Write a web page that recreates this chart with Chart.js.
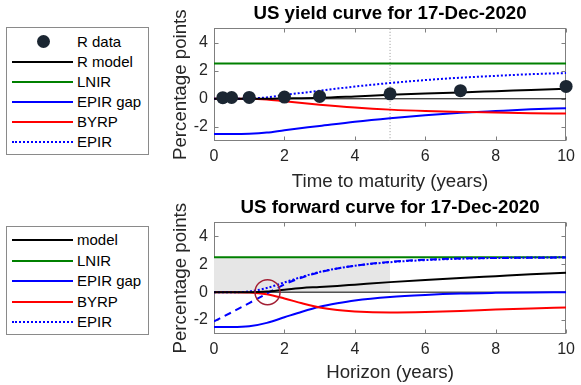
<!DOCTYPE html>
<html>
<head>
<meta charset="utf-8">
<script src="https://cdn.jsdelivr.net/npm/chart.js@4.4.1/dist/chart.umd.min.js"></script>
<style>
  html, body { margin: 0; padding: 0; background: #fff; }
  body { position: relative; width: 581px; height: 385px; overflow: hidden; font-family: "Liberation Sans", Arial, sans-serif; }
  canvas { position: absolute; left: 160px; }
  .legend { position: absolute; left: 6px; width: 143px; border: 1px solid #8a8a8a; background: #fff; box-sizing: border-box; }
  .row { position: absolute; left: 0; width: 140px; height: 20px; font-size: 15px; line-height: 20px; color: #000; }
  .row .sample { position: absolute; left: 5px; top: 9px; width: 61px; height: 0; }
  .row .dot { position: absolute; left: 30px; top: 3px; width: 13px; height: 13px; border-radius: 50%; background: #1b2632; }
  .row .txt { position: absolute; left: 70px; top: 0; white-space: nowrap; }
</style>
</head>
<body>
<div class="legend" id="leg1" style="top:27px;height:128px"></div>
<div class="legend" id="leg2" style="top:226px;height:109px"></div>
<canvas id="c1" width="421" height="194" style="top:0px"></canvas>
<canvas id="c2" width="421" height="191" style="top:194px"></canvas>
<script>
// axis ticks (both panels)
const xTicks = [0, 2, 4, 6, 8, 10];
const yTicks = [-2, 0, 2, 4];

// ---- yield curve panel ----
const matX = [0.25, 0.5, 1, 2, 3, 5, 7, 10];
const rData = [0.08, 0.09, 0.1, 0.12, 0.17, 0.35, 0.58, 0.88];
const tx = [0, 0.5, 1, 1.5, 2, 3, 4, 5, 6, 7, 8, 9, 10];
const tModel = [0, 0, 0, 0, 0.02, 0.07, 0.17, 0.28, 0.37, 0.45, 0.54, 0.63, 0.72];
const tLnir = [2.5, 2.5, 2.5, 2.5, 2.5, 2.5, 2.5, 2.5, 2.5, 2.5, 2.5, 2.5, 2.5];
const tGap = [-2.5, -2.5, -2.48, -2.4, -2.23, -1.93, -1.63, -1.38, -1.17, -1.0, -0.87, -0.75, -0.67];
const tByrp = [0, 0, 0, -0.05, -0.18, -0.42, -0.62, -0.77, -0.87, -0.93, -0.98, -1.02, -1.05];
const tEpir = [0, 0, 0.02, 0.1, 0.27, 0.57, 0.87, 1.12, 1.33, 1.5, 1.63, 1.75, 1.83];

// ---- forward curve panel ----
const bx = [0, 0.5, 1, 1.5, 2, 2.5, 3, 3.5, 4, 5, 6, 7, 8, 9, 10];
const bModel = [0, 0, 0, 0.04, 0.18, 0.3, 0.37, 0.45, 0.54, 0.72, 0.88, 1.02, 1.15, 1.28, 1.4];
const bLnir = [2.5, 2.5, 2.5, 2.5, 2.5, 2.5, 2.5, 2.5, 2.5, 2.5, 2.5, 2.5, 2.5, 2.5, 2.5];
const bGap = [-2.5, -2.5, -2.45, -2.2, -1.8, -1.4, -1.05, -0.8, -0.6, -0.35, -0.2, -0.1, -0.05, -0.02, 0];
const bByrp = [0, 0, -0.02, -0.15, -0.45, -0.8, -1.1, -1.28, -1.38, -1.45, -1.42, -1.35, -1.25, -1.17, -1.1];
const bEpir = [0, 0, 0.05, 0.3, 0.7, 1.1, 1.45, 1.7, 1.9, 2.15, 2.3, 2.4, 2.45, 2.48, 2.5];
const bDashed = [-2.1, -1.45, -0.78, -0.1, 0.55, 1.05, 1.42, 1.7, 1.9, 2.17, 2.33, 2.42, 2.45, 2.47, 2.48];
const shadeX = [0, 5];
const shadeY = [2.5, 2.5];
const circleX = [1.52];
const circleY = [0];

const FONT = '"Liberation Sans", Arial, sans-serif';
Chart.defaults.font.family = FONT;
Chart.defaults.color = '#262626';

function pts(xs, ys) { return xs.map((x, i) => ({ x: x, y: ys[i] })); }
function line(label, xs, ys, color, extra) {
  return Object.assign({
    label: label, data: pts(xs, ys), borderColor: color, backgroundColor: color,
    borderWidth: 2, pointRadius: 0, fill: false, cubicInterpolationMode: 'monotone'
  }, extra || {});
}

// MATLAB style box with inward ticks
const boxPlugin = {
  id: 'matBox',
  beforeDatasetsDraw(chart) {
    const { ctx, chartArea: a, scales: { x, y } } = chart;
    const L = Math.round(a.left) + 0.5, R = Math.round(a.right) - 0.5;
    const T = Math.round(a.top) + 0.5, B = Math.round(a.bottom) - 0.5;
    ctx.save();
    ctx.strokeStyle = '#7f7f7f';
    ctx.lineWidth = 1;
    ctx.strokeRect(L, T, R - L, B - T);
    ctx.beginPath();
    xTicks.forEach(v => {
      const p = Math.round(x.getPixelForValue(v)) + 0.5;
      ctx.moveTo(p, B); ctx.lineTo(p, B - 4);
      ctx.moveTo(p, T); ctx.lineTo(p, T + 4);
    });
    yTicks.forEach(v => {
      const p = Math.round(y.getPixelForValue(v)) + 0.5;
      ctx.moveTo(L, p); ctx.lineTo(L + 4, p);
      ctx.moveTo(R, p); ctx.lineTo(R - 4, p);
    });
    ctx.stroke();
    ctx.restore();
  }
};

function makeChart(id, title, xTitle, xh, datasets) {
  return new Chart(document.getElementById(id), {
    type: 'line',
    data: { datasets: datasets },
    options: {
      responsive: false,
      animation: false,
      layout: { padding: { left: 0, right: 12, top: 0, bottom: 0 } },
      plugins: {
        legend: { display: false },
        tooltip: { enabled: false },
        title: {
          display: true, text: title, fullSize: false, color: '#000',
          font: { size: 18.7, weight: 'bold' }, padding: { top: 3, bottom: 3 }
        }
      },
      scales: {
        x: {
          type: 'linear', min: 0, max: 10,
          afterBuildTicks(s) { s.ticks = xTicks.map(v => ({ value: v })); },
          afterFit(s) { s.height = xh; },
          grid: { display: false, drawTicks: false },
          border: { display: false },
          ticks: { padding: 6, maxRotation: 0, autoSkip: false, font: { size: 16 }, color: '#262626' },
          title: { display: true, text: xTitle, font: { size: 18.7 }, color: '#262626', padding: { top: 0, bottom: 1 } }
        },
        y: {
          type: 'linear', min: -3, max: 5,
          afterBuildTicks(s) { s.ticks = yTicks.map(v => ({ value: v })); },
          afterFit(s) { s.width = 54; },
          grid: { display: false, drawTicks: false },
          border: { display: false },
          ticks: { padding: 6, font: { size: 16 }, color: '#262626' },
          title: { display: true, text: 'Percentage points', font: { size: 18.7 }, color: '#262626', padding: { top: 10, bottom: 0 } }
        }
      }
    },
    plugins: [boxPlugin]
  });
}

// first dataset is drawn on top
makeChart('c1', 'US yield curve for 17-Dec-2020', 'Time to maturity (years)', 53, [
  { label: 'R data', data: pts(matX, rData), showLine: false, pointRadius: 6.5, pointBorderWidth: 0,
    pointBackgroundColor: '#1b2632', backgroundColor: '#1b2632', borderColor: '#1b2632', clip: false },
  line('R model', tx, tModel, '#000000'),
  line('EPIR', tx, tEpir, '#0000ff', { borderDash: [2, 2] }),
  line('BYRP', tx, tByrp, '#ff0000'),
  line('EPIR gap', tx, tGap, '#0000ff'),
  line('LNIR', tx, tLnir, '#008000'),
  line('zero', [0, 10], [0, 0], '#000000', { borderWidth: 1 }),
  line('t5', [5, 5], [-3, 5], '#9a9a9a', { borderWidth: 1, borderDash: [1, 2] })
]);

makeChart('c2', 'US forward curve for 17-Dec-2020', 'Horizon (years)', 51, [
  { label: 'circle', data: pts(circleX, circleY), showLine: false, pointRadius: 12.5, pointBorderWidth: 1.5,
    pointBorderColor: '#a31f34', pointBackgroundColor: 'rgba(0,0,0,0)', borderColor: '#a31f34' },
  line('model', bx, bModel, '#000000'),
  line('EPIR', bx, bEpir, '#0000ff', { borderDash: [2, 2] }),
  line('dashed', bx, bDashed, '#0000ff', { borderDash: [7, 5] }),
  line('BYRP', bx, bByrp, '#ff0000'),
  line('EPIR gap', bx, bGap, '#0000ff'),
  line('LNIR', bx, bLnir, '#008000'),
  line('zero', [0, 10], [0, 0], '#000000', { borderWidth: 1 }),
  line('shade', shadeX, shadeY, '#e6e6e6', { borderWidth: 0, fill: { value: 0 }, backgroundColor: '#e6e6e6', cubicInterpolationMode: 'default' })
]);

// legends
const legend1 = [
  { text: 'R data', dot: true },
  { text: 'R model', style: '2px solid #000' },
  { text: 'LNIR', style: '2px solid #008000' },
  { text: 'EPIR gap', style: '2px solid #0000ff' },
  { text: 'BYRP', style: '2px solid #ff0000' },
  { text: 'EPIR', style: '2px dotted #0000ff' }
];
const legend2 = [
  { text: 'model', style: '2px solid #000' },
  { text: 'LNIR', style: '2px solid #008000' },
  { text: 'EPIR gap', style: '2px solid #0000ff' },
  { text: 'BYRP', style: '2px solid #ff0000' },
  { text: 'EPIR', style: '2px dotted #0000ff' }
];
function buildLegend(id, items, first, step) {
  const box = document.getElementById(id);
  items.forEach((it, i) => {
    const row = document.createElement('div');
    row.className = 'row';
    row.style.top = (first + i * step - 10) + 'px';
    const s = document.createElement('div');
    if (it.dot) { s.className = 'dot'; } else { s.className = 'sample'; s.style.borderTop = it.style; }
    const t = document.createElement('div');
    t.className = 'txt';
    t.textContent = it.text;
    row.appendChild(s); row.appendChild(t);
    box.appendChild(row);
  });
}
buildLegend('leg1', legend1, 14, 20);
buildLegend('leg2', legend2, 13, 20.5);
</script>
</body>
</html>
